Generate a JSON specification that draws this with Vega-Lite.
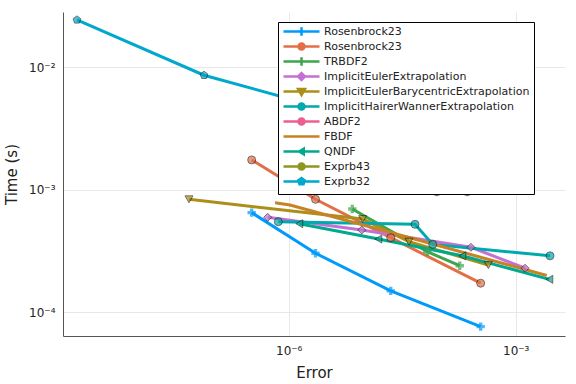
{
  "$schema": "https://vega.github.io/schema/vega-lite/v6.json",
  "autosize": {"type": "none"},
  "width": 502,
  "height": 324,
  "padding": {"left": 63, "top": 12, "right": 11, "bottom": 48},
  "background": "white",
  "config": {
    "view": {"stroke": null},
    "font": "DejaVu Sans",
    "axis": {"labelFont": "DejaVu Sans", "titleFont": "DejaVu Sans", "labelColor": "#222", "titleColor": "#222", "titleFontWeight": "normal", "domainColor": "#555", "gridColor": "#e8e8e8", "gridWidth": 1, "ticks": false}
  },
  "data": {"values": [
    {"s": "Rosenbrock23", "x": 3.24e-7, "y": 6.49e-4},
    {"s": "Rosenbrock23", "x": 2.26e-6, "y": 3.02e-4},
    {"s": "Rosenbrock23", "x": 2.23e-5, "y": 1.49e-4},
    {"s": "Rosenbrock23", "x": 3.44e-4, "y": 7.59e-5},
    {"s": "Rosenbrock23_2", "x": 3.24e-7, "y": 1.75e-3},
    {"s": "Rosenbrock23_2", "x": 2.26e-6, "y": 8.34e-4},
    {"s": "Rosenbrock23_2", "x": 2.23e-5, "y": 4.05e-4},
    {"s": "Rosenbrock23_2", "x": 3.44e-4, "y": 1.72e-4},
    {"s": "TRBDF2", "x": 6.92e-6, "y": 6.95e-4},
    {"s": "TRBDF2", "x": 6.79e-5, "y": 3.11e-4},
    {"s": "TRBDF2", "x": 1.82e-4, "y": 2.39e-4},
    {"s": "ImplicitEulerExtrapolation", "x": 5.27e-7, "y": 5.94e-4},
    {"s": "ImplicitEulerExtrapolation", "x": 9.23e-6, "y": 4.68e-4},
    {"s": "ImplicitEulerExtrapolation", "x": 2.56e-4, "y": 3.38e-4},
    {"s": "ImplicitEulerExtrapolation", "x": 1.33e-3, "y": 2.28e-4},
    {"s": "ImplicitEulerBarycentricExtrapolation", "x": 4.81e-8, "y": 8.34e-4},
    {"s": "ImplicitEulerBarycentricExtrapolation", "x": 9.51e-6, "y": 5.75e-4},
    {"s": "ImplicitEulerBarycentricExtrapolation", "x": 3.89e-5, "y": 3.76e-4},
    {"s": "ImplicitEulerBarycentricExtrapolation", "x": 4.35e-4, "y": 2.42e-4},
    {"s": "ImplicitHairerWannerExtrapolation", "x": 7.29e-7, "y": 5.47e-4},
    {"s": "ImplicitHairerWannerExtrapolation", "x": 4.67e-5, "y": 5.21e-4},
    {"s": "ImplicitHairerWannerExtrapolation", "x": 8.0e-5, "y": 3.57e-4},
    {"s": "ImplicitHairerWannerExtrapolation", "x": 2.84e-3, "y": 2.88e-4},
    {"s": "ABDF2", "x": 4.76e-6, "y": 2.11e-3},
    {"s": "ABDF2", "x": 2.66e-5, "y": 1.26e-3},
    {"s": "ABDF2", "x": 9.04e-5, "y": 9.62e-4},
    {"s": "ABDF2", "x": 2.29e-4, "y": 9.62e-4},
    {"s": "FBDF", "x": 6.59e-7, "y": 7.82e-4},
    {"s": "FBDF", "x": 1.04e-6, "y": 7.5e-4},
    {"s": "FBDF", "x": 5.43e-5, "y": 3.84e-4},
    {"s": "FBDF", "x": 2.57e-3, "y": 1.99e-4},
    {"s": "QNDF", "x": 1.38e-6, "y": 5.27e-4},
    {"s": "QNDF", "x": 1.53e-5, "y": 3.95e-4},
    {"s": "QNDF", "x": 1.97e-4, "y": 2.88e-4},
    {"s": "QNDF", "x": 2.78e-3, "y": 1.85e-4},
    {"s": "Exprb43", "x": 1.41e-6, "y": 1.15e-2},
    {"s": "Exprb43", "x": 1.61e-5, "y": 7.17e-3},
    {"s": "Exprb43", "x": 1.84e-4, "y": 5.41e-3},
    {"s": "Exprb32", "x": 1.59e-9, "y": 2.44e-2},
    {"s": "Exprb32", "x": 7.6e-8, "y": 8.61e-3},
    {"s": "Exprb32", "x": 3.52e-6, "y": 4.48e-3},
    {"s": "Exprb32", "x": 5.43e-5, "y": 3.37e-3}
  ]},
  "encoding": {
    "x": {"field": "x", "type": "quantitative", "scale": {"type": "log", "domain": [1.04e-9, 4.48e-3], "nice": false, "zero": false},
      "axis": {"title": "Error", "values": [1e-6, 1e-3], "titleFontSize": 15, "labelFontSize": 12, "labelPadding": 9, "titlePadding": 9,
        "labelExpr": "'10' + replace(replace(replace(replace(replace(toString(round(log(datum.value)/LN10)),'-','⁻'),'2','²'),'3','³'),'4','⁴'),'6','⁶')"}},
    "y": {"field": "y", "type": "quantitative", "scale": {"type": "log", "domain": [6.37e-5, 2.83e-2], "nice": false, "zero": false},
      "axis": {"title": "Time (s)", "values": [1e-2, 1e-3, 1e-4], "titleFontSize": 15, "labelFontSize": 12, "labelPadding": 8, "titlePadding": 9,
        "labelExpr": "'10' + replace(replace(replace(replace(replace(toString(round(log(datum.value)/LN10)),'-','⁻'),'2','²'),'3','³'),'4','⁴'),'6','⁶')"}},
    "color": {"field": "s", "type": "nominal",
      "scale": {"domain": ["Rosenbrock23", "Rosenbrock23_2", "TRBDF2", "ImplicitEulerExtrapolation", "ImplicitEulerBarycentricExtrapolation", "ImplicitHairerWannerExtrapolation", "ABDF2", "FBDF", "QNDF", "Exprb43", "Exprb32"],
        "range": ["#009AFA", "#E36F47", "#3EA44E", "#C371D2", "#AC8E18", "#00A9AD", "#ED5E93", "#C68225", "#00A98D", "#8E971E", "#00A8CB"]},
      "legend": {"title": null, "orient": "none", "legendX": 215, "legendY": 10, "fillColor": "white", "strokeColor": "black", "padding": 4, "gridAlign": "all",
        "symbolSize": 36, "symbolOffset": 14, "labelOffset": 17, "labelFontSize": 11, "labelLimit": 400, "labelFont": "DejaVu Sans", "labelColor": "#222", "rowPadding": -5.5, "symbolStrokeWidth": 2.5,
        "labelExpr": "replace(datum.label, '_2', '')",
        "encode": {"symbols": {"update": {
          "shape": {"signal": "datum.value == 'Rosenbrock23' || datum.value == 'TRBDF2' ? 'M-6,0H6M0,-1.4V1.4' : datum.value == 'ImplicitEulerExtrapolation' ? 'M-6,0H6M0,-1.15L1.15,0L0,1.15L-1.15,0Z' : datum.value == 'ImplicitEulerBarycentricExtrapolation' ? 'M-6,0H6M-1.15,-0.85L1.15,-0.85L0,1.15Z' : datum.value == 'QNDF' ? 'M-6,0H6M0.75,-0.9L0.75,0.9L-0.75,0Z' : datum.value == 'FBDF' ? 'M-6,0H6' : datum.value == 'Exprb32' ? 'M-6,0H6M0,-1.15L1.094,-0.355L0.676,0.93L-0.676,0.93L-1.094,-0.355Z' : 'M-6,0H6M-1,0A1,1 0 1,1 1,0A1,1 0 1,1 -1,0Z'"},
          "fill": {"signal": "scale('color', datum.value)"},
          "stroke": {"signal": "scale('color', datum.value)"}
        }}}}
    }
  },
  "layer": [
    {"mark": {"type": "line", "strokeWidth": 3}},
    {"transform": [{"filter": "datum.s == 'Rosenbrock23' || datum.s == 'TRBDF2'"}],
      "mark": {"type": "point", "filled": true, "shape": "cross", "size": 70}},
    {"transform": [{"filter": "datum.s != 'Rosenbrock23' && datum.s != 'TRBDF2' && datum.s != 'FBDF'"}],
      "mark": {"type": "point", "filled": true, "size": 64, "stroke": "#111", "strokeWidth": 0.8},
      "encoding": {"shape": {"field": "s", "type": "nominal", "legend": null,
        "scale": {"domain": ["Rosenbrock23_2", "ImplicitEulerExtrapolation", "ImplicitEulerBarycentricExtrapolation", "ImplicitHairerWannerExtrapolation", "ABDF2", "QNDF", "Exprb43", "Exprb32"],
          "range": ["circle", "diamond", "triangle-down", "circle", "circle", "triangle-left", "circle", "M0,-1L0.951,-0.309L0.588,0.809L-0.588,0.809L-0.951,-0.309Z"]}}}}
  ]
}
